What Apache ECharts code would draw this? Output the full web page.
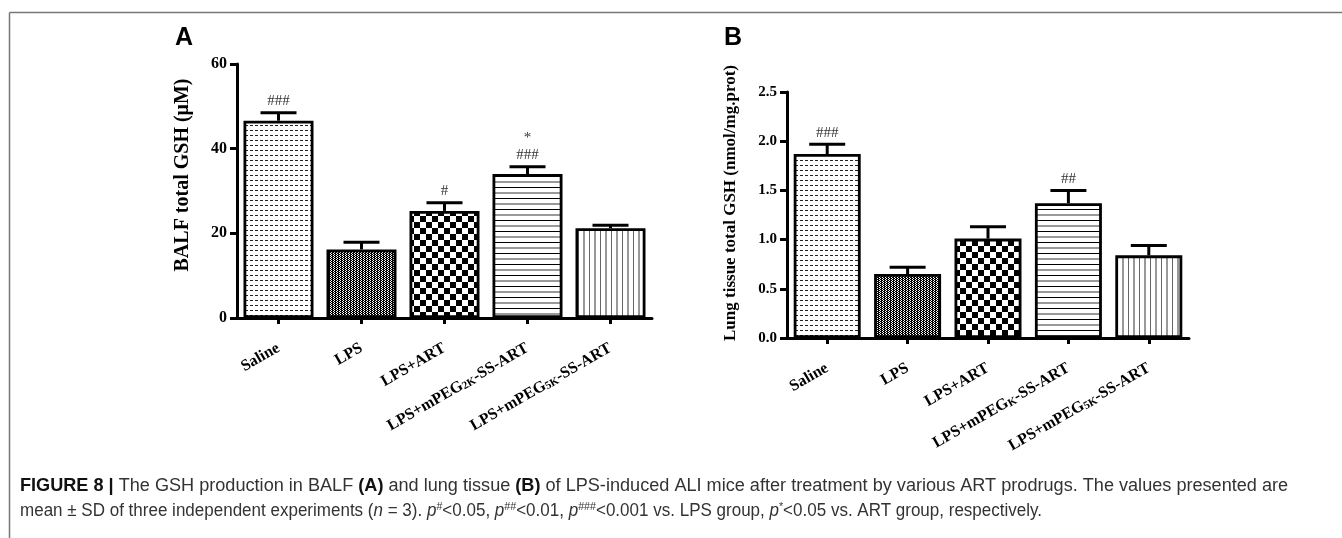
<!DOCTYPE html>
<html><head><meta charset="utf-8">
<script src="https://cdn.jsdelivr.net/npm/echarts@6/dist/echarts.min.js"></script>
<style>html,body{margin:0;padding:0;background:#fff}#c{width:1342px;height:538px}</style>
</head><body><div id="c"></div>
<script>
// ---- data ----
const categoriesA = ['Saline', 'LPS', 'LPS+ART', 'LPS+mPEG2K-SS-ART', 'LPS+mPEG5K-SS-ART'];
const categoriesB = ['Saline', 'LPS', 'LPS+ART', 'LPS+mPEGK-SS-ART', 'LPS+mPEG5K-SS-ART'];
const meanA = [46.6, 16.2, 25.3, 34.0, 21.2];
const sdA   = [1.9, 1.7, 1.9, 1.7, 0.7];
const marksA = ['###', '', '#', '*\n###', ''];
const meanB = [1.87, 0.65, 1.01, 1.37, 0.84];
const sdB   = [0.10, 0.07, 0.12, 0.13, 0.10];
const marksB = ['###', '', '', '##', ''];
const yTicksA = { min: 0, max: 60, step: 20 };
const yTicksB = { min: 0, max: 2.5, step: 0.5 };
const titleA = 'BALF total GSH (μM)';
const titleB = 'Lung tissue total GSH (nmol/mg.prot)';
const captionLine1 = '{b|FIGURE 8 |} The GSH production in BALF {b|(A)} and lung tissue {b|(B)} of LPS-induced ALI mice after treatment by various ART prodrugs. The values presented are';
const captionLine2 = 'mean ± SD of three independent experiments ({i|n} = 3). {i|p}{sup|#}<0.05, {i|p}{sup|##}<0.01, {i|p}{sup|###}<0.001 vs. LPS group, {i|p}{sup|*}<0.05 vs. ART group, respectively.';

// ---- patterns ----
function pat(w, h, draw) {
  const c = document.createElement('canvas'); c.width = w; c.height = h;
  const g = c.getContext('2d'); g.fillStyle = '#fff'; g.fillRect(0, 0, w, h); draw(g);
  return { image: c, repeat: 'repeat' };
}
const patterns = [
  pat(5, 5, g => { g.fillStyle = '#222'; g.fillRect(0, 0, 3, 1); }),
  pat(3, 2, g => { g.fillStyle = '#000'; g.fillRect(0, 0, 3, 2); g.fillStyle = '#fff'; g.fillRect(1, 0, 1, 1); g.fillRect(0, 1, 1, 1); }),
  pat(12, 12, g => { g.fillStyle = '#000'; g.fillRect(0, 0, 6, 6); g.fillRect(6, 6, 6, 6); }),
  pat(4, 11, g => { g.fillStyle = '#000'; g.fillRect(0, 0, 4, 1); g.fillStyle = '#999'; g.fillRect(0, 5, 4, 2); }),
  pat(11, 4, g => { g.fillStyle = '#999'; g.fillRect(0, 0, 2, 4); g.fillStyle = '#666'; g.fillRect(6, 0, 1, 4); })
];

const serif = '"Liberation Serif", "Times New Roman", serif';
const sans = '"Liberation Sans", Arial, sans-serif';
function fmtCat(v) { return v.replace(/mPEG([0-9]*K)-/, 'mPEG{s|$1}-'); }

function errRender(marks) {
  return function (params, api) {
    const i = api.value(0), m = api.value(1), s = api.value(2);
    const p0 = api.coord([i, m]); const p1 = api.coord([i, m + s]);
    return { type: 'group', children: [
      { type: 'line', shape: { x1: p0[0], y1: p0[1], x2: p1[0], y2: p1[1] }, style: { stroke: '#000', lineWidth: 3 } },
      { type: 'line', shape: { x1: p1[0] - 18, y1: p1[1], x2: p1[0] + 18, y2: p1[1] }, style: { stroke: '#000', lineWidth: 3 } },
      { type: 'text', x: p1[0], y: p1[1] - 3, style: { text: marks[params.dataIndex], align: 'center', textAlign: 'center', verticalAlign: 'bottom', textVerticalAlign: 'bottom', font: '15px ' + serif, fill: '#333', lineHeight: 17 } }
    ] };
  };
}

function xAxisCfg(idx, cats) {
  return {
    type: 'category', gridIndex: idx, data: cats,
    axisLine: { show: true, lineStyle: { color: '#000', width: 3 } },
    axisTick: { show: true, alignWithLabel: true, length: 6, lineStyle: { color: '#000', width: 3 } },
    axisLabel: { interval: 0, rotate: 30, margin: 29, color: '#000', fontFamily: serif, fontWeight: 'bold', fontSize: 16,
      formatter: fmtCat,
      rich: { s: { fontFamily: serif, fontWeight: 'bold', fontSize: 11, color: '#000', verticalAlign: 'bottom' } } },
    splitLine: { show: false }
  };
}
function yAxisCfg(idx, t, fs, dec) {
  return {
    type: 'value', gridIndex: idx, min: t.min, max: t.max, interval: t.step,
    axisLine: { show: true, lineStyle: { color: '#000', width: 3 } },
    axisTick: { show: true, length: 7, lineStyle: { color: '#000', width: 3 } },
    axisLabel: { margin: 10, color: '#000', fontFamily: serif, fontWeight: 'bold', fontSize: fs,
      formatter: v => v.toFixed(dec) },
    splitLine: { show: false }
  };
}
function barSeries(idx, means, w) {
  return { type: 'bar', xAxisIndex: idx, yAxisIndex: idx, barWidth: w, silent: true,
    itemStyle: { borderColor: '#000', borderWidth: 2.8 },
    data: means.map((v, i) => ({ value: v, itemStyle: { color: patterns[i] } })) };
}
function errSeries(idx, means, sds, marks) {
  return { type: 'custom', xAxisIndex: idx, yAxisIndex: idx, z: 5, silent: true,
    renderItem: errRender(marks), data: means.map((v, i) => [i, v, sds[i]]) };
}

const capRich = {
  b: { fontWeight: 'bold', fontSize: 17.5, fontFamily: sans, fill: '#111', lineHeight: 25 },
  i: { fontStyle: 'italic', fontSize: 17.5, fontFamily: sans, fill: '#333', lineHeight: 25 },
  sup: { fontSize: 11, fontFamily: sans, fill: '#333', lineHeight: 25, verticalAlign: 'top', padding: [3, 0, 0, 0] }
};
function capText(text, y, sx) {
  return { type: 'text', x: 20, y: y, scaleX: sx, style: { text: text, font: '17.5px ' + sans, fill: '#333', lineHeight: 25, textAlign: 'left', textVerticalAlign: 'middle', rich: capRich } };
}

const chart = echarts.init(document.getElementById('c'), null, { renderer: 'canvas' });
chart.setOption({
  backgroundColor: '#fff',
  animation: false,
  grid: [
    { left: 237, top: 64, width: 415, height: 254, containLabel: false },
    { left: 787, top: 92, width: 402, height: 246, containLabel: false }
  ],
  xAxis: [xAxisCfg(0, categoriesA), xAxisCfg(1, categoriesB)],
  yAxis: [yAxisCfg(0, yTicksA, 16, 0), yAxisCfg(1, yTicksB, 15, 1)],
  series: [
    barSeries(0, meanA, 70), errSeries(0, meanA, sdA, marksA),
    barSeries(1, meanB, 67), errSeries(1, meanB, sdB, marksB)
  ],
  graphic: [
    { type: 'line', shape: { x1: 9.5, y1: 12.5, x2: 1342, y2: 12.5 }, style: { stroke: '#777', lineWidth: 1.5 } },
    { type: 'line', shape: { x1: 9.5, y1: 12.5, x2: 9.5, y2: 538 }, style: { stroke: '#777', lineWidth: 1.5 } },
    { type: 'text', x: 184, y: 38, style: { text: 'A', font: 'bold 25px ' + sans, fill: '#000', textAlign: 'center', textVerticalAlign: 'middle' } },
    { type: 'text', x: 733, y: 38, style: { text: 'B', font: 'bold 25px ' + sans, fill: '#000', textAlign: 'center', textVerticalAlign: 'middle' } },
    { type: 'text', x: 183, y: 175, rotation: Math.PI / 2, style: { text: titleA, font: 'bold 20px ' + serif, fill: '#000', textAlign: 'center', textVerticalAlign: 'middle' } },
    { type: 'text', x: 731, y: 203, rotation: Math.PI / 2, style: { text: titleB, font: 'bold 17px ' + serif, fill: '#000', textAlign: 'center', textVerticalAlign: 'middle' } },
    capText(captionLine1, 486, 1.035),
    capText(captionLine2, 511, 0.972)
  ]
});
</script>
</body></html>
